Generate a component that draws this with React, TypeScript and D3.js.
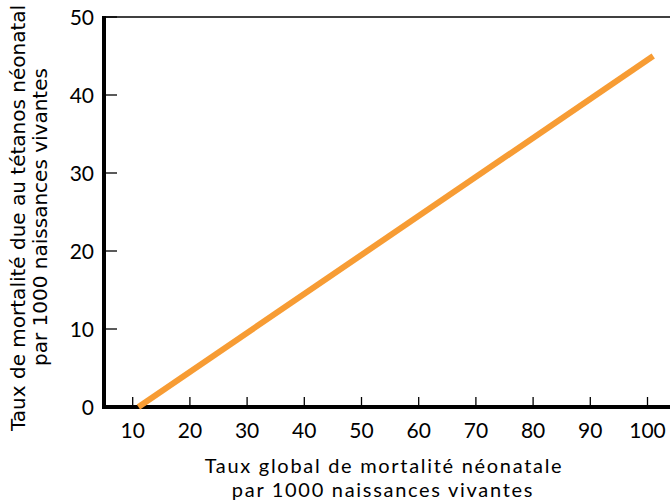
import React from "react";
import * as d3 from "d3";

const xTicks = [10, 20, 30, 40, 50, 60, 70, 80, 90, 100];
const yTicks = [0, 10, 20, 30, 40, 50];
const lineX = [11, 101];
const lineY = [0, 45];
const xTitle = ["Taux global de mortalité néonatale", "par 1000 naissances vivantes"];
const yTitle = ["Taux de mortalité due au tétanos néonatal", "par 1000 naissances vivantes"];

export default function App() {
  const W = 670, H = 500;
  const x = d3.scaleLinear().domain([10, 100]).range([132.7, 647.5]);
  const y = d3.scaleLinear().domain([0, 50]).range([407, 17]);
  const x0 = x.invert(104);
  const pts = lineX.map((v, i) => [v, lineY[i]] as [number, number]);
  const line = d3.line<[number, number]>().x(d => x(d[0])).y(d => y(d[1]));
  const tickFont = "Lato, 'Open Sans', sans-serif";
  const yFont = "'DejaVu Sans', sans-serif";
  return (
    <svg width={W} height={H} style={{ position: "absolute", left: 0, top: 0 }}>
      <rect width={W} height={H} fill="#fff" />
      <line x1={x(x0)} x2={W} y1={y(50)} y2={y(50)} stroke="#000" strokeWidth={1.5} />
      {yTicks.map(t => (
        <g key={"y" + t}>
          <line x1={x(x0)} x2={x(x0) + 13} y1={y(t)} y2={y(t)} stroke="#000" strokeWidth={1.3} />
          <text x={94} y={y(t)} dy="0.36em" textAnchor="end" fontFamily={tickFont} fontSize={21} fill="#000">{t}</text>
        </g>
      ))}
      {xTicks.map(t => (
        <g key={"x" + t}>
          <line x1={x(t)} x2={x(t)} y1={y(0)} y2={y(0) - 10} stroke="#000" strokeWidth={1.3} />
          <text x={x(t)} y={438} textAnchor="middle" fontFamily={tickFont} fontSize={21} fill="#000">{t}</text>
        </g>
      ))}
      <line x1={x(x0)} x2={x(x0)} y1={y(50) - 1} y2={y(0) + 2} stroke="#000" strokeWidth={4} />
      <line x1={x(x0) - 2} x2={W} y1={y(0)} y2={y(0)} stroke="#000" strokeWidth={4} />
      <path d={line(pts) || ""} stroke="#F79C34" strokeWidth={6} fill="none" />
      <text x={384} y={473} textAnchor="middle" fontFamily={tickFont} fontSize={20} letterSpacing={1.7} fill="#000">{xTitle[0]}</text>
      <text x={383} y={497} textAnchor="middle" fontFamily={tickFont} fontSize={20} letterSpacing={1.7} fill="#000">{xTitle[1]}</text>
      <g transform="translate(25,218) rotate(-90)">
        <text x={0} y={0} textAnchor="middle" fontFamily={yFont} fontSize={20} fill="#000">{yTitle[0]}</text>
      </g>
      <g transform="translate(47,217) rotate(-90)">
        <text x={0} y={0} textAnchor="middle" fontFamily={yFont} fontSize={20} fill="#000">{yTitle[1]}</text>
      </g>
    </svg>
  );
}
